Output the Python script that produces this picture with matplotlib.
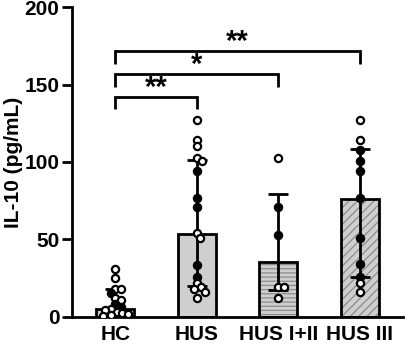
import matplotlib
matplotlib.use('Agg')
import matplotlib.pyplot as plt
import numpy as np

plt.rcParams['font.family'] = ['Liberation Sans', 'DejaVu Sans']
plt.rcParams['font.weight'] = 'bold'
plt.rcParams['hatch.linewidth'] = 0.9

# ---- data ----
categories = ['HC', 'HUS', 'HUS I+II', 'HUS III']
medians = [4.7, 53.5, 35.5, 76.0]
q_low = [1.5, 20.0, 17.0, 25.6]
q_high = [17.6, 101.5, 79.0, 108.6]
hatches = ['', '', '----', '////']

open_pts = [
    [31, 25, 18, 18, 12, 11, 5, 4, 3, 2, 1.5, 1, 0.5],
    [127, 114.5, 110.5, 102.5, 100.5, 54, 50.5, 21.5, 19, 18, 16, 12],
    [102.6, 19, 19, 12],
    [127, 114.5, 22, 15.7],
]
filled_pts = [
    [15, 8, 6],
    [94, 76.5, 71, 33.5, 25.5],
    [71, 53],
    [108, 100.5, 94, 76.5, 50.6, 33.8, 25.8],
]

sig_pairs = [(0, 1), (0, 2), (0, 3)]
sig_heights = [142, 156.7, 171.5]
sig_labels = ['**', '*', '**']

# ---- figure ----
fig = plt.figure(figsize=(4.05, 3.46), dpi=100)
ax = fig.add_axes([0.178, 0.085, 0.817, 0.894])
ax.set_xlim(-0.53, 3.53)
ax.set_ylim(0, 200)

x = np.arange(len(categories))
bw = 0.47
ax.bar(x, medians, width=bw, color='#cfcfcf', edgecolor='#8c8c8c',
       linewidth=0, hatch=hatches, zorder=1)
ax.bar(x, medians, width=bw, facecolor='none', edgecolor='black',
       linewidth=2, zorder=2)

yerr = np.array([np.array(medians) - np.array(q_low),
                 np.array(q_high) - np.array(medians)])
ax.errorbar(x, medians, yerr=yerr, fmt='none', ecolor='black',
            elinewidth=2, capsize=7.2, capthick=2, zorder=3)

# simple beeswarm in pixel space
fig.canvas.draw()
p0 = ax.transData.transform(np.array([[0, 0], [1, 1]]))
sx = p0[1, 0] - p0[0, 0]
sy = p0[1, 1] - p0[0, 1]
d = 5.6
cands = [0.0]
for j in range(1, 60):
    cands += [j * 0.5, -j * 0.5]
for i in range(len(categories)):
    vals = [(v, 'o') for v in open_pts[i]] + [(v, 'f') for v in filled_pts[i]]
    vals.sort(key=lambda t: -t[0])
    placed = []
    res = []
    for v, kind in vals:
        ypx = v * sy
        for c in cands:
            xo = c * d * 0.5
            if all((xo - px) ** 2 + (ypx - py) ** 2 >= d * d for px, py in placed):
                break
        placed.append((xo, ypx))
        res.append((i + xo / sx, v, kind))
    for xx, v, kind in res:
        if kind == 'o':
            ax.plot(xx, v, 'o', ms=5.2, mfc='white', mec='black', mew=1.6, zorder=4)
        else:
            ax.plot(xx, v, 'o', ms=5.8, mfc='black', mec='black', mew=1.0, zorder=4)

# significance brackets
drop = 8
for (a, b), h, lab in zip(sig_pairs, sig_heights, sig_labels):
    ax.plot([a, a, b, b], [h - drop, h, h, h - drop], color='black', lw=2,
            solid_capstyle='butt', solid_joinstyle='miter', clip_on=False)
    ax.text((a + b) / 2, h + 0.6, lab, ha='center', va='baseline',
            fontsize=21, fontweight='bold')

for s in ['top', 'right']:
    ax.spines[s].set_visible(False)
ax.spines['left'].set_linewidth(2)
ax.spines['bottom'].set_linewidth(2)
ax.set_yticks([0, 50, 100, 150, 200])
ax.tick_params(axis='y', width=2, length=7, pad=2, labelsize=15)
ax.set_xticks(x)
ax.set_xticklabels(categories)
ax.tick_params(axis='x', length=0, pad=6, labelsize=15)
ax.set_ylabel('IL-10 (pg/mL)', fontsize=15, fontweight='bold', labelpad=1.5)

fig.savefig('out.png', dpi=100)
